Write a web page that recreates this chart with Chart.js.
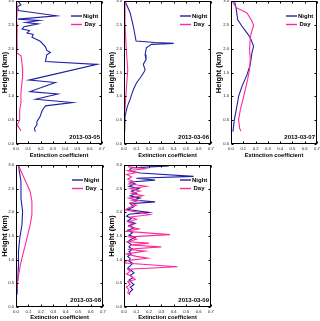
<!DOCTYPE html>
<html>
<head>
<meta charset="utf-8">
<script src="https://cdn.jsdelivr.net/npm/chart.js@4.4.0/dist/chart.umd.min.js"></script>
<style>
  html, body { margin: 0; padding: 0; background: #fff; }
  body { width: 320px; height: 321px; position: relative; overflow: hidden; }
  canvas { position: absolute; }
</style>
</head>
<body>
<canvas id="c1"></canvas>
<canvas id="c2"></canvas>
<canvas id="c3"></canvas>
<canvas id="c4"></canvas>
<canvas id="c5"></canvas>
<script>
// extinction profiles, height (km) and coefficient per date

var xTicks = [0, 0.1, 0.2, 0.3, 0.4, 0.5, 0.6, 0.7];
var yTicks = [0, 0.5, 1.0, 1.5, 2.0, 2.5, 3.0];
var seriesNames = ['Night', 'Day'];
var dates = ['2013-03-05', '2013-03-06', '2013-03-07', '2013-03-08', '2013-03-09'];

// 2013-03-05
var h05Night = [3.00, 2.92, 2.88, 2.80, 2.69, 2.62, 2.59, 2.55, 2.52, 2.46, 2.41, 2.38, 2.33, 2.30, 2.24, 2.19, 2.15, 2.04, 1.97, 1.92, 1.87, 1.73, 1.67, 1.34, 1.29, 1.10, 1.05, 0.94, 0.87, 0.80, 0.73, 0.68, 0.57, 0.47, 0.40, 0.33, 0.26];
var v05Night = [0.015, 0.04, 0.01, 0.02, 0.33, 0.016, 0.19, 0.08, 0.18, 0.065, 0.05, 0.11, 0.09, 0.14, 0.13, 0.17, 0.20, 0.24, 0.25, 0.28, 0.25, 0.24, 0.66, 0.106, 0.32, 0.114, 0.34, 0.16, 0.46, 0.24, 0.22, 0.21, 0.195, 0.17, 0.17, 0.15, 0.157];
var h05Day = [3.00, 2.80, 2.60, 2.40, 2.20, 2.00, 1.91, 1.85, 1.77, 1.60, 1.42, 1.20, 1.07, 0.86, 0.72, 0.50, 0.40, 0.36, 0.28];
var v05Day = [0.005, 0.01, 0.005, 0.01, 0.008, 0.01, 0.005, 0.04, 0.046, 0.052, 0.054, 0.045, 0.04, 0.04, 0.03, 0.03, 0.01, 0.02, 0.04];

// 2013-03-06
var h06Night = [3.00, 2.75, 2.47, 2.16, 2.13, 2.11, 2.09, 2.02, 1.88, 1.77, 1.67, 1.56, 1.52, 1.42, 1.28, 1.14, 0.93, 0.79, 0.58, 0.44, 0.26];
var v06Night = [0.008, 0.05, 0.075, 0.097, 0.25, 0.40, 0.22, 0.18, 0.17, 0.177, 0.155, 0.17, 0.163, 0.14, 0.10, 0.075, 0.048, 0.027, 0.008, 0.003, 0.008];
var h06Day = [3.00, 2.50, 2.00, 1.56, 1.00, 0.44];
var v06Day = [0.0, 0.008, 0.018, 0.03, 0.015, 0.0];

// 2013-03-07
var h07Night = [2.98, 2.83, 2.61, 2.47, 2.33, 2.23, 2.05, 1.91, 1.67, 1.45, 1.21, 1.00, 0.72, 0.51, 0.26];
var v07Night = [0.03, 0.043, 0.054, 0.089, 0.13, 0.157, 0.184, 0.17, 0.157, 0.13, 0.089, 0.062, 0.043, 0.027, 0.016];
var h07Day = [3.00, 2.86, 2.75, 2.58, 2.49, 2.37, 2.26, 1.98, 1.77, 1.56, 1.35, 1.00, 0.72, 0.51, 0.33, 0.27];
var v07Day = [0.008, 0.043, 0.13, 0.17, 0.184, 0.17, 0.157, 0.151, 0.157, 0.151, 0.135, 0.103, 0.076, 0.062, 0.07, 0.081];

// 2013-03-08
var h08Night = [2.99, 2.65, 2.30, 2.02, 1.74, 1.45, 1.17, 0.89, 0.54, 0.26];
var v08Night = [0.02, 0.04, 0.04, 0.053, 0.048, 0.03, 0.02, 0.02, 0.013, 0.008];
var h08Day = [2.99, 2.72, 2.44, 2.23, 1.95, 1.74, 1.45, 1.17, 0.89, 0.54, 0.26];
var v08Day = [0.02, 0.066, 0.114, 0.128, 0.128, 0.114, 0.088, 0.061, 0.035, 0.013, 0.003];

// 2013-03-09
var h09Night = [3.00, 2.98, 2.94, 2.88, 2.83, 2.76, 2.72, 2.68, 2.64, 2.60, 2.55, 2.50, 2.45, 2.40, 2.35, 2.30, 2.26, 2.22, 2.18, 2.12, 2.06, 2.00, 1.96, 1.92, 1.87, 1.82, 1.77, 1.72, 1.67, 1.62, 1.57, 1.52, 1.47, 1.42, 1.37, 1.32, 1.27, 1.22, 1.17, 1.12, 1.07, 1.02, 0.97, 0.92, 0.87, 0.82, 0.77, 0.72, 0.67, 0.62, 0.57, 0.52, 0.47, 0.42, 0.37, 0.32, 0.27];
var v09Night = [0.02, 0.36, 0.06, 0.04, 0.13, 0.56, 0.10, 0.25, 0.05, 0.09, 0.04, 0.12, 0.06, 0.10, 0.05, 0.13, 0.07, 0.25, 0.05, 0.08, 0.03, 0.20, 0.04, 0.02, 0.06, 0.03, 0.09, 0.04, 0.08, 0.03, 0.07, 0.04, 0.09, 0.05, 0.03, 0.06, 0.04, 0.07, 0.04, 0.06, 0.03, 0.05, 0.04, 0.07, 0.05, 0.03, 0.06, 0.08, 0.05, 0.07, 0.04, 0.06, 0.08, 0.05, 0.07, 0.05, 0.04];
var h09Day = [3.00, 2.96, 2.92, 2.88, 2.84, 2.80, 2.75, 2.70, 2.65, 2.60, 2.55, 2.50, 2.45, 2.40, 2.35, 2.30, 2.25, 2.20, 2.15, 2.10, 2.05, 2.00, 1.95, 1.90, 1.85, 1.80, 1.75, 1.70, 1.65, 1.60, 1.53, 1.48, 1.43, 1.38, 1.35, 1.31, 1.27, 1.22, 1.18, 1.12, 1.07, 1.03, 0.98, 0.93, 0.85, 0.80, 0.75, 0.70, 0.65, 0.58, 0.54, 0.48, 0.42, 0.36, 0.30, 0.26];
var v09Day = [0.03, 0.04, 0.17, 0.03, 0.10, 0.02, 0.06, 0.03, 0.08, 0.04, 0.18, 0.05, 0.13, 0.06, 0.15, 0.04, 0.12, 0.05, 0.10, 0.04, 0.01, 0.12, 0.21, 0.05, 0.10, 0.03, 0.08, 0.04, 0.12, 0.02, 0.37, 0.04, 0.10, 0.03, 0.20, 0.05, 0.30, 0.03, 0.17, 0.02, 0.10, 0.19, 0.02, 0.01, 0.43, 0.03, 0.05, 0.02, 0.06, 0.09, 0.03, 0.05, 0.02, 0.04, 0.03, 0.05];

var nightColor = '#2020a8';
var dayColor = '#ff2a9c';
var fontFamily = 'Arial, "Liberation Sans", sans-serif';

function toPoints(hs, vs) {
  return hs.map(function(h, i) { return { x: vs[i], y: h }; });
}

// frame with inward ticks, legend inside, date label
var frameTicks = {
  id: 'frameTicks',
  afterDraw: function(chart, args, opts) {
    var ctx = chart.ctx, a = chart.chartArea;
    var xs = chart.scales.x, ys = chart.scales.y;
    ctx.save();
    ctx.strokeStyle = '#000';
    ctx.lineWidth = 1;
    var l = Math.round(a.left) + 0.5, r = Math.round(a.right) - 0.5;
    var t = Math.round(a.top) + 0.5, b = Math.round(a.bottom) - 0.5;
    ctx.strokeRect(l, t, r - l, b - t);
    ctx.beginPath();
    xs.ticks.forEach(function(tk) {
      var px = Math.round(xs.getPixelForValue(tk.value)) + 0.5;
      ctx.moveTo(px, b); ctx.lineTo(px, b - 2);
      ctx.moveTo(px, t); ctx.lineTo(px, t + 2);
    });
    ys.ticks.forEach(function(tk) {
      var py = Math.round(ys.getPixelForValue(tk.value)) + 0.5;
      ctx.moveTo(l, py); ctx.lineTo(l + 2, py);
      ctx.moveTo(r, py); ctx.lineTo(r - 2, py);
    });
    ctx.stroke();

    ctx.font = 'bold 6px ' + fontFamily;
    ctx.textBaseline = 'middle';
    ctx.textAlign = 'left';
    chart.data.datasets.forEach(function(ds, i) {
      var y = a.top + 15 + i * 8.5;
      ctx.strokeStyle = ds.borderColor;
      ctx.lineWidth = 1.4;
      ctx.beginPath();
      ctx.moveTo(a.right - 31, y);
      ctx.lineTo(a.right - 20, y);
      ctx.stroke();
      ctx.fillStyle = '#000';
      ctx.fillText(ds.label, a.right - 19 + (i ? 1.5 : 0), y);
    });

    ctx.textAlign = 'right';
    ctx.font = 'bold 6px ' + fontFamily;
    ctx.fillText(opts.date, a.right - 2, a.bottom - 7);
    ctx.restore();
  }
};

function makePanel(id, box, nightH, nightV, dayH, dayV, date) {
  var cv = document.getElementById(id);
  cv.width = box.w; cv.height = box.h;
  cv.style.left = box.x + 'px';
  cv.style.top = box.y + 'px';
  return new Chart(cv.getContext('2d'), {
    type: 'scatter',
    data: {
      datasets: [
        { label: seriesNames[0], data: toPoints(nightH, nightV), borderColor: nightColor,
          backgroundColor: nightColor, showLine: true, pointRadius: 0, borderWidth: 1.1, order: 1 },
        { label: seriesNames[1], data: toPoints(dayH, dayV), borderColor: dayColor,
          backgroundColor: dayColor, showLine: true, pointRadius: 0, borderWidth: 1.1, order: 0 }
      ]
    },
    options: {
      responsive: false,
      animation: false,
      events: [],
      layout: { padding: { top: box.pt, right: box.pr, left: 0, bottom: 0 } },
      plugins: {
        legend: { display: false },
        tooltip: { enabled: false },
        frameTicks: { date: date }
      },
      scales: {
        x: {
          type: 'linear', min: 0, max: 0.7,
          afterBuildTicks: function(s) { s.ticks = xTicks.map(function(v) { return { value: v }; }); },
          ticks: { font: { size: 4.2, family: fontFamily }, color: '#222', padding: 2,
                   maxRotation: 0, autoSkip: false,
                   callback: function(v) { return v.toFixed(1); } },
          grid: { display: true, drawOnChartArea: false, drawTicks: false },
          border: { display: false },
          title: { display: true, text: 'Extinction coefficient', color: '#000',
                   font: { size: 5.8, weight: 'bold', family: fontFamily }, padding: { top: 0, bottom: box.tb } },
          afterFit: function(s) { s.height = box.xh; s.paddingLeft = 0; s.paddingRight = 0; }
        },
        y: {
          type: 'linear', min: 0, max: 3,
          afterBuildTicks: function(s) { s.ticks = yTicks.map(function(v) { return { value: v }; }); },
          ticks: { font: { size: 4.2, family: fontFamily }, color: '#222', padding: 2,
                   autoSkip: false,
                   callback: function(v) { return v.toFixed(1); } },
          grid: { display: true, drawOnChartArea: false, drawTicks: false },
          border: { display: false },
          title: { display: true, text: 'Height (km)', color: '#000',
                   font: { size: 7.5, weight: 'bold', family: fontFamily }, padding: { top: 0, bottom: 0 } },
          afterFit: function(s) { s.width = box.yw; s.paddingTop = 0; s.paddingBottom = 0; }
        }
      }
    },
    plugins: [frameTicks]
  });
}

makePanel('c1', { x: 0, y: 0, w: 107, h: 160, yw: 16, xh: 16, pt: 1, pr: 5, tb: 1.5 }, h05Night, v05Night, h05Day, v05Day, dates[0]);
makePanel('c2', { x: 107, y: 0, w: 107, h: 160, yw: 17, xh: 16, pt: 1, pr: 3, tb: 1.5 }, h06Night, v06Night, h06Day, v06Day, dates[1]);
makePanel('c3', { x: 214, y: 0, w: 106, h: 160, yw: 17, xh: 16, pt: 1, pr: 3, tb: 1.5 }, h07Night, v07Night, h07Day, v07Day, dates[2]);
makePanel('c4', { x: 0, y: 161, w: 107, h: 160, yw: 16, xh: 14, pt: 4, pr: 4, tb: 0 }, h08Night, v08Night, h08Day, v08Day, dates[3]);
makePanel('c5', { x: 107, y: 161, w: 107, h: 160, yw: 17, xh: 14, pt: 4, pr: 3, tb: 0 }, h09Night, v09Night, h09Day, v09Day, dates[4]);
</script>
</body>
</html>
